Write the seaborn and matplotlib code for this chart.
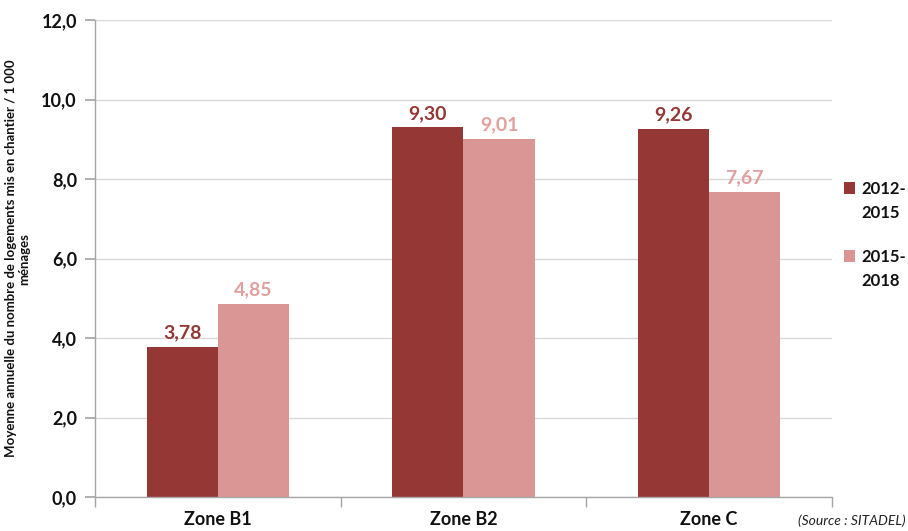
import matplotlib
matplotlib.use("Agg")
import matplotlib.pyplot as plt
import seaborn as sns
import pandas as pd
from matplotlib.ticker import FixedLocator, FuncFormatter

zones = ["Zone B1", "Zone B2", "Zone C"]
periods = ["2012-\n2015", "2015-\n2018"]
values_2012_2015 = [3.78, 9.30, 9.26]
values_2015_2018 = [4.85, 9.01, 7.67]
colors = ["#953735", "#D99694"]
label_colors = ["#953735", "#E0A09E"]

df = pd.DataFrame({
    "zone": zones * 2,
    "period": [periods[0]] * 3 + [periods[1]] * 3,
    "value": values_2012_2015 + values_2015_2018,
})

sns.set_theme(style="white")
plt.rcParams["font.family"] = ["Lato", "DejaVu Sans"]

fig = plt.figure(figsize=(9.08, 5.31), dpi=100)
ax = fig.add_axes([0.1046, 0.064, 0.8117, 0.898])

sns.barplot(data=df, x="zone", y="value", hue="period", palette=colors,
            width=0.58, saturation=1, ax=ax, errorbar=None, edgecolor="none")

ax.set_ylim(0, 12)
ax.set_xlim(-0.5, 2.5)
ax.set_yticks([0, 2, 4, 6, 8, 10, 12])
ax.yaxis.set_major_formatter(FuncFormatter(lambda v, p: f"{v:.1f}".replace(".", ",")))
ax.yaxis.grid(True, color="#D9D9D9", linewidth=1)
ax.set_axisbelow(True)
for s in ["top", "right"]:
    ax.spines[s].set_visible(False)
for s in ["left", "bottom"]:
    ax.spines[s].set_color("#A6A6A6")
    ax.spines[s].set_linewidth(1)

ax.tick_params(axis="y", which="major", left=True, length=7, color="#A6A6A6",
               labelsize=13, pad=6, labelcolor="#111111")
for t in ax.get_yticklabels():
    t.set_fontweight("bold")
ax.tick_params(axis="x", which="major", bottom=False, labelsize=13, pad=4,
               labelcolor="#111111")
for t in ax.get_xticklabels():
    t.set_fontweight("bold")
ax.xaxis.set_minor_locator(FixedLocator([-0.5, 0.5, 1.5, 2.5]))
ax.tick_params(axis="x", which="minor", bottom=True, length=7, color="#A6A6A6")

ax.set_xlabel("")
ax.set_ylabel("Moyenne annuelle du nombre de logements mis en chantier / 1 000\nménages",
              fontsize=9.5, fontweight="bold", labelpad=8, linespacing=1.1,
              color="#111111")

for cont, lc in zip(ax.containers, label_colors):
    ax.bar_label(cont, labels=[f"{b.get_height():.2f}".replace(".", ",") for b in cont],
                 color=lc, fontsize=14, fontweight="bold", padding=4)

leg = ax.legend(loc="center left", bbox_to_anchor=(1.016, 0.55), frameon=False,
                prop={"weight": "bold", "size": 12}, handlelength=0.7,
                handleheight=0.7, handletextpad=0.35, labelspacing=1.7,
                borderpad=0, borderaxespad=0)
for t in leg.get_texts():
    t.set_color("#111111")
    t.set_linespacing(1.6)
for h in leg.legend_handles:
    h.set_y(h.get_y() + 9.5)

fig.text(0.997, 0.008, "(Source : SITADEL)", ha="right", va="bottom",
         fontsize=10, style="italic", color="#222222")

fig.savefig("out.png", dpi=100)
